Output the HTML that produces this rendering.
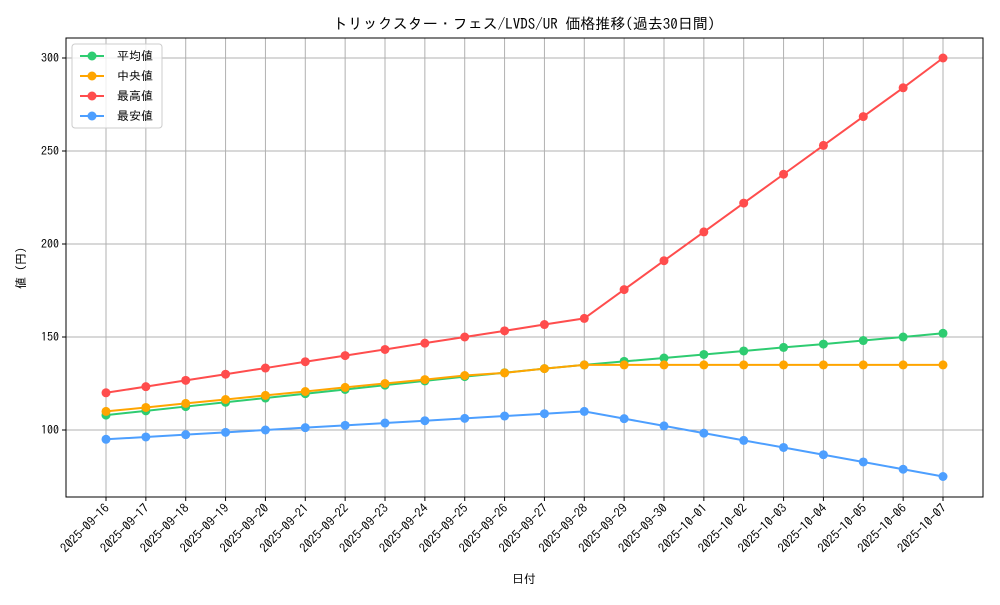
<!DOCTYPE html>
<html><head><meta charset="utf-8"><style>
body{margin:0;background:#fff}
svg text{font-family:"IPAGothic","Noto Sans CJK JP",monospace;fill:#000}
</style></head><body>
<svg id="chart" width="1000" height="600"></svg>
<script>
const dates=["2025-09-16","2025-09-17","2025-09-18","2025-09-19","2025-09-20","2025-09-21","2025-09-22","2025-09-23","2025-09-24","2025-09-25","2025-09-26","2025-09-27","2025-09-28","2025-09-29","2025-09-30","2025-10-01","2025-10-02","2025-10-03","2025-10-04","2025-10-05","2025-10-06","2025-10-07"];
const meanVals=[108,110.3,112.6,114.9,117.2,119.5,121.8,124.1,126.4,128.7,130.8,133,135,136.9,138.7,140.6,142.5,144.4,146.2,148.1,150,152];
const medianVals=[110,112.1,114.3,116.4,118.6,120.7,122.9,125,127.1,129.3,130.7,133,135,135,135,135,135,135,135,135,135,135];
const maxVals=[120,123.3,126.7,130,133.3,136.7,140,143.3,146.7,150,153.3,156.7,160,175.5,191,206.5,222,237.5,253,268.5,284,300];
const minVals=[95,96.25,97.5,98.75,100,101.25,102.5,103.75,105,106.25,107.5,108.75,110,106.1,102.2,98.3,94.4,90.6,86.7,82.8,78.9,75];
const yTicks=[100,150,200,250,300];
const seriesNames=["平均値","中央値","最高値","最安値"];
const colors=["#2ecc71","#ffa500","#ff4d4d","#4d9fff"];
const NS="http://www.w3.org/2000/svg";
const svg=document.getElementById('chart');
function el(t,a,p){const e=document.createElementNS(NS,t);for(const k in a)e.setAttribute(k,a[k]);(p||svg).appendChild(e);return e;}
const L=66,R=983,T=38,B=497;
const x=i=>106+i*(943-106)/(dates.length-1);
const y=v=>430-(v-100)*1.86;
const grid=el('g',{});

dates.forEach((d,i)=>el('line',{x1:x(i),x2:x(i),y1:T,y2:B,stroke:'#b0b0b0','stroke-width':1},grid));
yTicks.forEach(v=>el('line',{x1:L,x2:R,y1:y(v),y2:y(v),stroke:'#b0b0b0','stroke-width':1},grid));
const fr=el('rect',{x:L,y:T,width:R-L,height:B-T,fill:'none',stroke:'#000','stroke-width':1});

dates.forEach((d,i)=>{
 el('line',{x1:x(i),x2:x(i),y1:B,y2:B+4,stroke:'#000'});
 const t=el('text',{x:x(i)+4,y:B+12,'font-size':12.5,'text-anchor':'end',transform:`rotate(-45 ${x(i)+4} ${B+12})`});
 t.textContent=d;
 
 
});
yTicks.forEach(v=>{
 el('line',{x1:L-4,x2:L,y1:y(v),y2:y(v),stroke:'#000'});
 const t=el('text',{x:L-7,y:y(v)+4,'font-size':12,'text-anchor':'end'});
 t.textContent=v;
 
 
});
[meanVals,medianVals,maxVals,minVals].forEach((s,k)=>{
 const g=el('g',{});
 
 
 el('polyline',{points:s.map((v,i)=>x(i)+','+y(v)).join(' '),fill:'none',stroke:colors[k],'stroke-width':2},g);
 s.forEach((v,i)=>{const c=el('circle',{cx:x(i),cy:y(v),r:4.5,fill:colors[k]},g);
  
  });
});
const lg=el('g',{});

el('rect',{x:72,y:44,width:90,height:84,rx:3,fill:'#fff','fill-opacity':0.8,stroke:'#ccc'},lg);
seriesNames.forEach((n,k)=>{
 const yy=56+k*20;
 const e=el('g',{},lg);
 
 
 el('line',{x1:80,x2:104,y1:yy,y2:yy,stroke:colors[k],'stroke-width':2},e);
 el('circle',{cx:92,cy:yy,r:4.5,fill:colors[k]},e);
 const t=el('text',{x:117,y:yy+4,'font-size':12},e);t.textContent=n;
});
const ti=el('text',{x:524,y:29,'font-size':15,'text-anchor':'middle'});ti.textContent='トリックスター・フェス/LVDS/UR 価格推移(過去30日間)';

const xt=el('text',{x:524,y:583,'font-size':12,'text-anchor':'middle'});xt.textContent='日付';

const yt=el('text',{x:25,y:268,'font-size':12,'text-anchor':'middle',transform:'rotate(-90 25 268)'});yt.textContent='値 (円)';

</script>
</body></html>
